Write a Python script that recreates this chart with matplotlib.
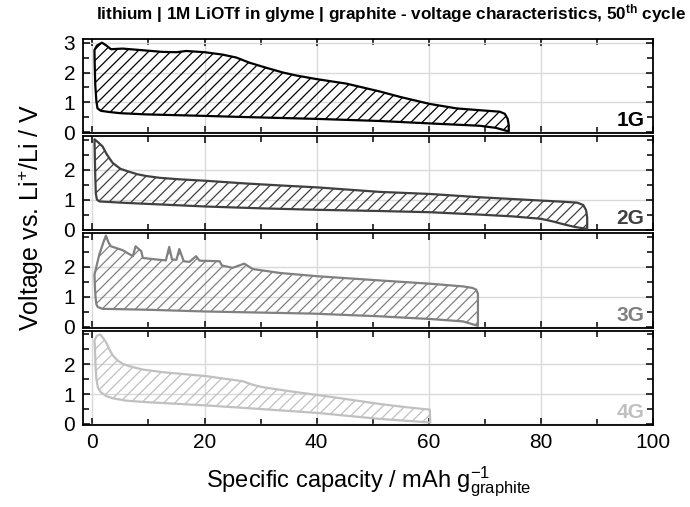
import numpy as np
import matplotlib.pyplot as plt
from matplotlib.ticker import MultipleLocator

plt.rcParams['font.family'] = ['Liberation Sans', 'DejaVu Sans']
plt.rcParams['mathtext.fontset'] = 'custom'
plt.rcParams['mathtext.rm'] = 'Liberation Sans'
plt.rcParams['mathtext.bf'] = 'Liberation Sans:bold'
plt.rcParams['mathtext.default'] = 'regular'
plt.rcParams['hatch.linewidth'] = 0.9

# Datos: capacidad (mAh/g) y voltaje (V)
# 1G
q1_up = [0.36, 0.8, 1.7, 2.5, 3.3, 5.4, 8.0, 12.5, 15.0, 16.7, 20.0, 23.2, 25.7, 28.0, 31.0, 34.0, 36.4,
         40.0, 45.3, 51.2, 55.0, 60.2, 65.0, 69.1, 72.7, 73.6, 74.1, 74.3, 74.3]
v1_up = [2.75, 2.9, 3.0, 2.9, 2.78, 2.80, 2.76, 2.69, 2.68, 2.72, 2.68, 2.60, 2.50, 2.33, 2.16, 2.00, 1.90,
         1.78, 1.63, 1.37, 1.18, 0.95, 0.80, 0.74, 0.69, 0.62, 0.45, 0.25, 0.03]
q1_lo = [0.36, 0.4, 0.5, 0.7, 0.9, 1.5, 3.0, 5.0, 9.6, 20.0, 27.4, 40.0, 51.2, 60.0, 69.1, 72.0, 74.3]
v1_lo = [2.75, 2.3, 1.6, 1.04, 0.8, 0.72, 0.68, 0.64, 0.60, 0.55, 0.51, 0.45, 0.38, 0.30, 0.22, 0.15, 0.03]

# 2G
q2_up = [0.36, 1.0, 1.8, 2.6, 3.6, 5.0, 6.6, 8.0, 9.6, 12.0, 15.5, 20.3, 27.4, 34.0, 40.1, 51.2, 60.2,
         69.1, 80.0, 84.0, 86.5, 87.6, 88.1, 88.3, 88.3]
v2_up = [3.02, 2.92, 2.78, 2.50, 2.23, 2.03, 1.93, 1.85, 1.79, 1.73, 1.68, 1.63, 1.54, 1.47, 1.41, 1.26, 1.19,
         1.08, 0.97, 0.93, 0.90, 0.82, 0.65, 0.40, 0.02]
q2_lo = [0.36, 0.42, 0.5, 0.6, 0.8, 1.25, 5.0, 9.6, 20.3, 30.0, 40.1, 51.2, 60.2, 69.1, 75.0, 80.0, 82.0,
         84.0, 86.0, 88.3]
v2_lo = [3.02, 2.5, 1.8, 1.2, 1.0, 0.94, 0.90, 0.86, 0.77, 0.71, 0.66, 0.62, 0.58, 0.50, 0.44, 0.36, 0.28,
         0.18, 0.09, 0.02]

# 3G
q3_up = [0.36, 1.2, 2.0, 2.4, 2.9, 3.3, 5.4, 7.2, 7.7, 8.7, 9.0, 11.4, 13.1, 13.7, 14.2, 15.0, 15.5, 16.3,
         17.3, 18.5, 19.1, 22.7, 23.1, 25.0, 27.1, 28.6, 33.4, 40.1, 51.2, 60.2, 66.1, 67.8, 68.5, 68.8, 68.8]
v3_up = [1.74, 2.4, 2.85, 3.05, 2.80, 2.69, 2.56, 2.36, 2.69, 2.53, 2.30, 2.25, 2.22, 2.67, 2.25, 2.24, 2.60,
         2.19, 2.17, 2.36, 2.21, 2.19, 2.05, 1.97, 2.11, 1.93, 1.80, 1.69, 1.55, 1.44, 1.35, 1.30, 1.24, 1.10, 0.03]
q3_lo = [0.36, 0.45, 0.54, 0.7, 0.95, 1.8, 9.6, 20.3, 39.3, 51.2, 60.2, 66.1, 68.8]
v3_lo = [1.74, 1.3, 1.02, 0.75, 0.66, 0.60, 0.57, 0.51, 0.44, 0.35, 0.26, 0.18, 0.03]

# 4G
q4_up = [0.36, 0.8, 1.4, 2.0, 2.4, 3.0, 3.6, 4.5, 5.4, 6.6, 9.0, 12.6, 20.3, 26.8, 28.6, 30.4, 35.0,
         40.1, 45.0, 51.2, 56.0, 60.2, 60.3]
v4_up = [2.80, 2.95, 2.99, 2.85, 2.74, 2.50, 2.30, 2.12, 2.01, 1.93, 1.82, 1.73, 1.60, 1.43, 1.31, 1.23, 1.10,
         0.97, 0.84, 0.67, 0.56, 0.48, 0.05]
q4_lo = [0.36, 0.45, 0.54, 0.7, 1.0, 1.5, 2.5, 3.6, 6.0, 9.6, 20.3, 30.0, 40.1, 51.2, 60.3]
v4_lo = [2.80, 2.5, 2.0, 1.5, 1.2, 1.06, 0.93, 0.86, 0.78, 0.73, 0.62, 0.50, 0.37, 0.17, 0.05]

labels = ['1G', '2G', '3G', '4G']
colors = ['#000000', '#404040', '#808080', '#c0c0c0']
curves = [(q1_up, v1_up, q1_lo, v1_lo), (q2_up, v2_up, q2_lo, v2_lo),
          (q3_up, v3_up, q3_lo, v3_lo), (q4_up, v4_up, q4_lo, v4_lo)]

fig, axes = plt.subplots(4, 1, figsize=(6.9, 5.07), dpi=100, sharex=True)
fig.subplots_adjust(left=0.121, right=0.946, top=0.923, bottom=0.162, hspace=0.032)

for i, ax in enumerate(axes):
    qu, vu, ql, vl = curves[i]
    # contorno cerrado: carga (arriba) + descarga (abajo, invertida)
    xs = list(qu) + list(ql[::-1])
    ys = list(vu) + list(vl[::-1])
    ax.fill(xs, ys, facecolor='none', edgecolor=colors[i], hatch='///', linewidth=1.6,
            joinstyle='round', zorder=3)

    ax.set_xlim(-1.6, 100)
    ax.set_ylim(-0.03, 3.12)
    if i == 0:
        ax.set_yticks([0, 1, 2, 3])
    else:
        ax.set_yticks([0, 1, 2])
    ax.yaxis.set_minor_locator(MultipleLocator(0.5))
    ax.xaxis.set_major_locator(MultipleLocator(20))
    ax.xaxis.set_minor_locator(MultipleLocator(10))
    ax.grid(True, which='major', color='#d9d9d9', linewidth=1.0, zorder=0)
    ax.tick_params(which='both', direction='in', top=True, right=True, labelsize=15, width=1.1)
    ax.tick_params(which='major', length=5)
    ax.tick_params(which='minor', length=4)
    ax.tick_params(axis='y', pad=6)
    for s in ax.spines.values():
        s.set_linewidth(1.3)
    ax.text(0.985, 0.03, labels[i], transform=ax.transAxes, ha='right', va='bottom',
            fontsize=15, fontweight='bold', color=colors[i])

axes[-1].tick_params(axis='x', pad=6)

fig.text(0.566, 0.974, r'lithium | 1M LiOTf in glyme | graphite - voltage characteristics, 50$^{\mathbf{th}}$ cycle',
         ha='center', va='center', fontsize=12.3, fontweight='bold')
fig.text(0.045, 0.572, r'Voltage vs. Li$^{+}$/Li / V', rotation=90, ha='center', va='center', fontsize=18)
fig.text(0.534, 0.05, r'Specific capacity / mAh g$^{-1}_{graphite}$', ha='center', va='center', fontsize=17)

plt.savefig('out.png', dpi=100)
